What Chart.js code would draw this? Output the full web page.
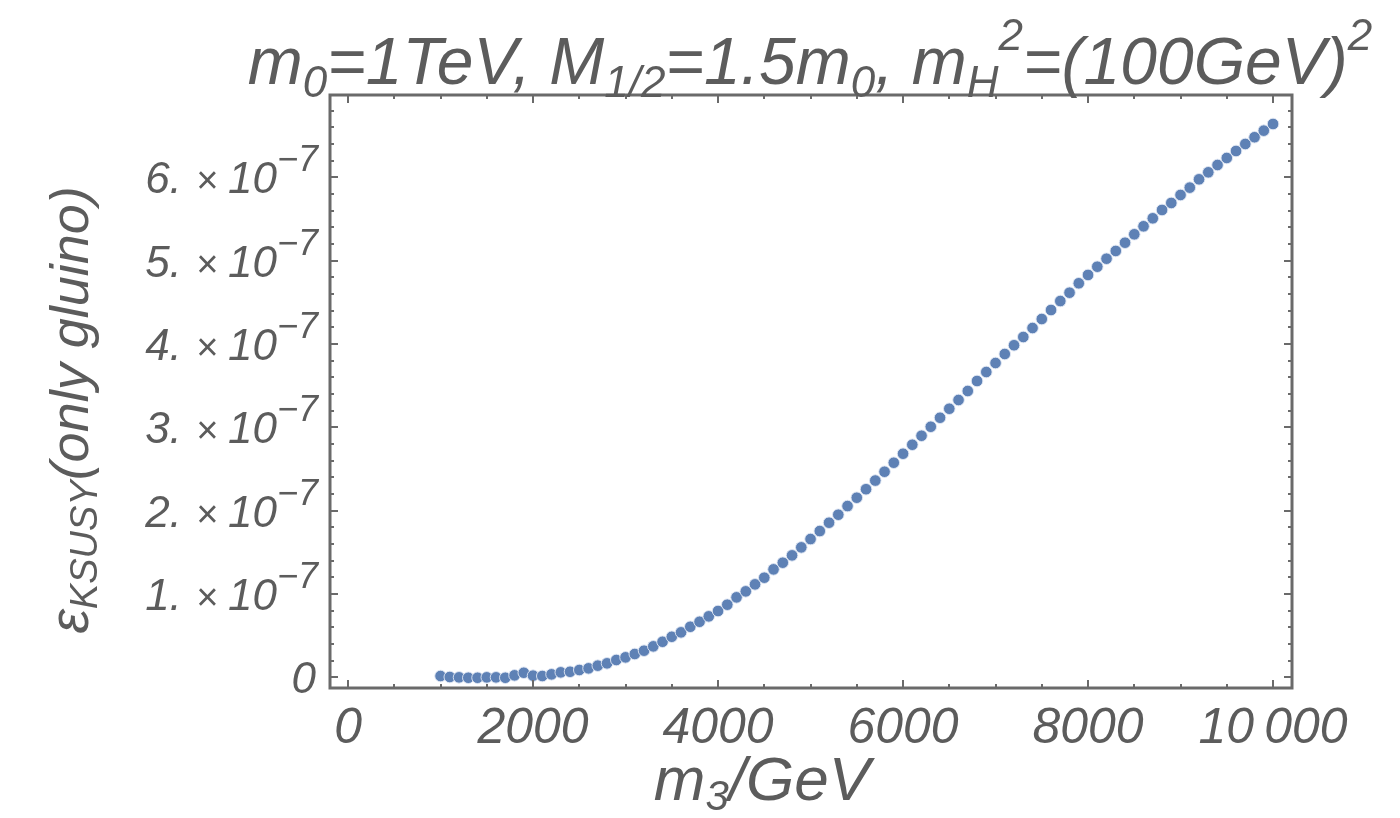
<!DOCTYPE html>
<html><head><meta charset="utf-8">
<script src="https://cdn.jsdelivr.net/npm/chart.js@4"></script>
<style>html,body{margin:0;padding:0;background:#fff}#wrap{width:1400px;height:818px}</style>
</head><body><div id="wrap"><canvas id="c" width="1400" height="818"></canvas></div>
<script>
// m3 in GeV
const m3Values = [1000,1100,1200,1300,1400,1500,1600,1700,1800,1900,2000,2100,2200,2300,2400,2500,2600,2700,2800,2900,3000,3100,3200,3300,3400,3500,3600,3700,3800,3900,4000,4100,4200,4300,4400,4500,4600,4700,4800,4900,5000,5100,5200,5300,5400,5500,5600,5700,5800,5900,6000,6100,6200,6300,6400,6500,6600,6700,6800,6900,7000,7100,7200,7300,7400,7500,7600,7700,7800,7900,8000,8100,8200,8300,8400,8500,8600,8700,8800,8900,9000,9100,9200,9300,9400,9500,9600,9700,9800,9900,10000];
// epsilon_K SUSY (only gluino), in units of 1e-7
const epsValues = [0.016,0.004,0.000,-0.005,-0.005,0.000,0.000,-0.005,0.024,0.055,0.020,0.016,0.036,0.060,0.067,0.088,0.108,0.140,0.168,0.208,0.240,0.280,0.320,0.372,0.427,0.487,0.540,0.607,0.667,0.732,0.796,0.872,0.960,1.032,1.116,1.196,1.296,1.376,1.464,1.560,1.660,1.756,1.856,1.952,2.056,2.156,2.258,2.362,2.468,2.576,2.684,2.792,2.900,3.008,3.116,3.224,3.329,3.437,3.557,3.665,3.773,3.881,3.986,4.085,4.193,4.301,4.409,4.517,4.617,4.730,4.830,4.929,5.025,5.118,5.217,5.318,5.414,5.510,5.610,5.694,5.790,5.878,5.978,6.062,6.150,6.234,6.318,6.402,6.483,6.562,6.642];
const xTickValues = [0,2000,4000,6000,8000,10000];
const xTickLabels = ["0","2000","4000","6000","8000","10\u2009000"];
const yTickValues = [0,1,2,3,4,5,6];
const yTickMantissas = ["0","1.","2.","3.","4.","5.","6."];
const yTickExponent = "\u22127";

const TXT = '#5c5c5c';
const FONT = '"Liberation Sans", Arial, sans-serif';

function richWidth(ctx, segs){
  let w = 0;
  for (const s of segs){ ctx.font = 'italic ' + s.size + 'px ' + FONT; w += ctx.measureText(s.t).width + (s.gap||0); }
  return w;
}
function drawRich(ctx, segs, x, y, align){
  const w = richWidth(ctx, segs);
  let cx = align === 'center' ? x - w/2 : (align === 'right' ? x - w : x);
  ctx.textBaseline = 'alphabetic';
  ctx.textAlign = 'left';
  for (const s of segs){
    ctx.font = 'italic ' + s.size + 'px ' + FONT;
    ctx.fillText(s.t, cx, y + (s.dy||0));
    cx += ctx.measureText(s.t).width + (s.gap||0);
  }
}

const framePlugin = {
  id: 'framePlugin',
  afterDraw(chart){
    const ctx = chart.ctx, a = chart.chartArea;
    const xs = chart.scales.x, ys = chart.scales.y;
    ctx.save();
    ctx.strokeStyle = '#6a6a6a';
    ctx.lineWidth = 2;
    const tick = (v, len, axis) => {
      if (axis === 'x'){
        const p = Math.round(xs.getPixelForValue(v));
        ctx.beginPath(); ctx.moveTo(p, a.bottom); ctx.lineTo(p, a.bottom - len); ctx.stroke();
        ctx.beginPath(); ctx.moveTo(p, a.top); ctx.lineTo(p, a.top + len); ctx.stroke();
      } else {
        const p = Math.round(ys.getPixelForValue(v));
        ctx.beginPath(); ctx.moveTo(a.left, p); ctx.lineTo(a.left + len, p); ctx.stroke();
        ctx.beginPath(); ctx.moveTo(a.right, p); ctx.lineTo(a.right - len, p); ctx.stroke();
      }
    };
    for (let v = 0; v <= 10000; v += 500){ tick(v, (v % 2000 === 0) ? 8 : 4, 'x'); }
    for (let k = 0; k <= 34; k++){ const v = k * 0.2; tick(v, (k % 5 === 0) ? 8 : 4, 'y'); }
    ctx.lineWidth = 3;
    ctx.strokeRect(a.left, a.top, a.right - a.left, a.bottom - a.top);

    ctx.fillStyle = TXT;
    // x tick labels
    ctx.textAlign = 'center'; ctx.textBaseline = 'alphabetic';
    ctx.font = 'italic 50px ' + FONT;
    xTickValues.forEach((v, i) => {
      ctx.fillText(xTickLabels[i], xs.getPixelForValue(v), a.bottom + 55);
    });
    // y tick labels
    yTickValues.forEach((v, i) => {
      const py = ys.getPixelForValue(v) + 16;
      if (v === 0){
        drawRich(ctx, [{t:'0', size:44}], a.left - 14, py, 'right');
      } else {
        drawRich(ctx, [{t:yTickMantissas[i], size:44, gap:14},{t:'\u00d7', size:38, gap:10},{t:'10', size:44},{t:yTickExponent, size:36, dy:-22}], a.left - 12, py, 'right');
      }
    });
    // x axis title
    drawRich(ctx, [{t:'m', size:62},{t:'3', size:42, dy:10},{t:'/GeV', size:62}], 762, 800, 'center');
    // y axis title (rotated)
    ctx.save();
    ctx.translate(88, 410);
    ctx.rotate(-Math.PI/2);
    drawRich(ctx, [{t:'\u03b5', size:56},{t:'KSUSY', size:38, dy:9},{t:'(only gluino)', size:54}], 0, 0, 'center');
    ctx.restore();
    // title
    drawRich(ctx, [
      {t:'m', size:66},{t:'0', size:44, dy:13},{t:'=1TeV, M', size:66},{t:'1/2', size:44, dy:13},
      {t:'=1.5m', size:66},{t:'0', size:44, dy:13},{t:', m', size:66},{t:'H', size:44, dy:13},
      {t:'2', size:44, dy:-34},{t:'=(100GeV)', size:66},{t:'2', size:44, dy:-34}
    ], 810, 84, 'center');
    ctx.restore();
  }
};

new Chart(document.getElementById('c'), {
  type: 'scatter',
  data: {
    datasets: [{
      data: m3Values.map((x, i) => ({x: x, y: epsValues[i]})),
      backgroundColor: 'rgb(94,129,181)',
      borderColor: 'rgba(225,232,244,0.9)',
      borderWidth: 1,
      pointRadius: 5.8,
      pointHoverRadius: 5.8
    }]
  },
  options: {
    responsive: false,
    animation: false,
    devicePixelRatio: 1,
    layout: { padding: { left: 330, right: 108, top: 95, bottom: 130 } },
    plugins: { legend: { display: false }, tooltip: { enabled: false }, title: { display: false } },
    scales: {
      x: { type: 'linear', display: false, min: -195, max: 10205 },
      y: { type: 'linear', display: false, min: -0.128, max: 6.99 }
    }
  },
  plugins: [framePlugin]
});
</script>
</body></html>
